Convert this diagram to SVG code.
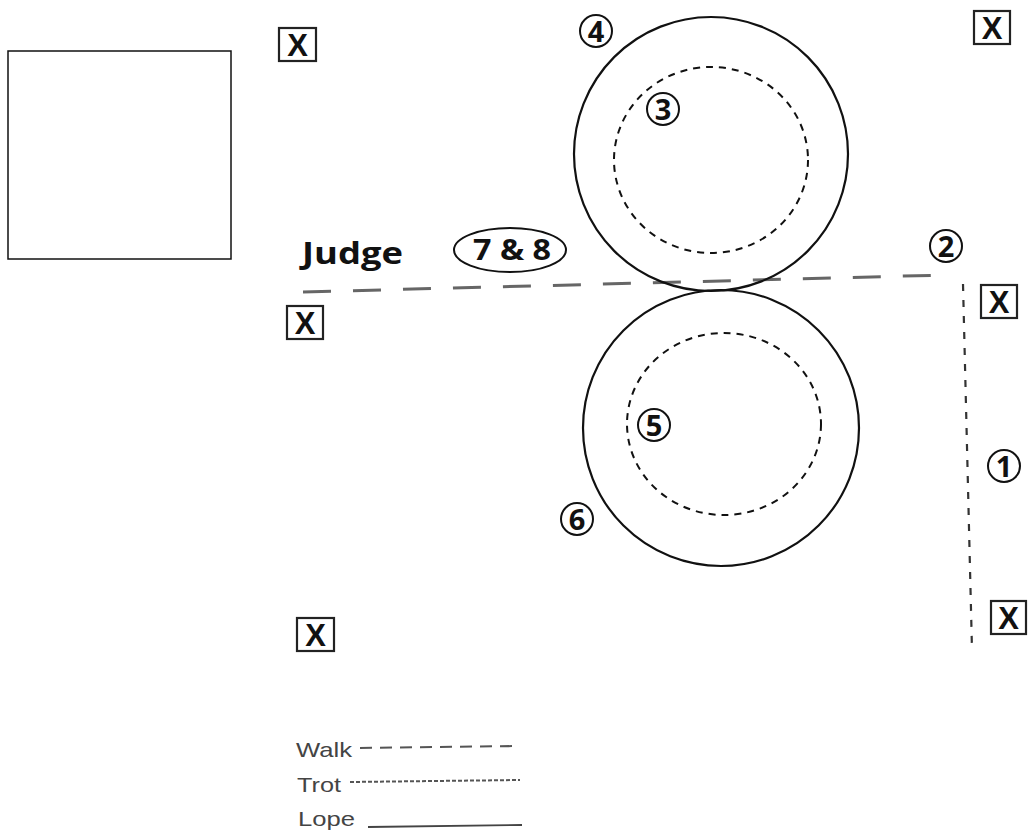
<svg xmlns="http://www.w3.org/2000/svg" width="1032" height="836" viewBox="0 0 1032 836">
<style>
.xb{fill:#fff;stroke:#222;stroke-width:2.2}
.xt{font-family:"Liberation Sans",Arial,sans-serif;font-weight:bold;font-size:31px;fill:#111;text-anchor:middle}
.num{fill:#fff;stroke:#111;stroke-width:2}
.nt{font-family:"Open Sans","DejaVu Sans",sans-serif;font-weight:bold;font-size:29px;fill:#111;text-anchor:middle}
.ring{fill:none;stroke:#111;stroke-width:2.2}
.inner{fill:none;stroke:#111;stroke-width:2;stroke-dasharray:7 6}
.leg{font-family:"Liberation Sans",Arial,sans-serif;font-size:21px;fill:#444}
</style>
<rect width="1032" height="836" fill="#fff"/>
<g id="box"><rect x="8" y="51" width="223" height="208" fill="#fff" stroke="#111" stroke-width="1.5"/></g>
<g id="connectors">
<path d="M303 292 L945 275" fill="none" stroke="#666" stroke-width="3" stroke-dasharray="28 22"/>
<path d="M963 284 L972 650" fill="none" stroke="#333" stroke-width="2.2" stroke-dasharray="7 9"/>
</g>
<g id="circle-upper">
<circle class="ring" cx="711" cy="154" r="137"/>
<ellipse class="inner" cx="711" cy="160" rx="97" ry="93"/>
</g>
<g id="circle-lower">
<circle class="ring" cx="721" cy="428" r="138"/>
<ellipse class="inner" cx="724" cy="424" rx="97" ry="91"/>
</g>
<g id="n1"><circle class="num" cx="1004" cy="466" r="16"/><text class="nt" x="1004" y="476.5">1</text></g>
<g id="n2"><circle class="num" cx="946" cy="246" r="16"/><text class="nt" x="946" y="256.5">2</text></g>
<g id="n3"><circle class="num" cx="663" cy="109" r="16"/><text class="nt" x="663" y="119.5">3</text></g>
<g id="n4"><circle class="num" cx="596" cy="31" r="16"/><text class="nt" x="596" y="41.5">4</text></g>
<g id="n5"><circle class="num" cx="654" cy="425" r="16"/><text class="nt" x="654" y="435.5">5</text></g>
<g id="n6"><circle class="num" cx="577" cy="519" r="16"/><text class="nt" x="577" y="529.5">6</text></g>
<g id="judge"><text x="302" y="264" font-family="'Open Sans','DejaVu Sans',sans-serif" font-weight="bold" font-size="30" fill="#111" textLength="101" lengthAdjust="spacingAndGlyphs">Judge</text></g>
<g id="n78"><ellipse cx="510" cy="250" rx="56" ry="22" fill="#fff" stroke="#111" stroke-width="2"/><text x="512" y="260" font-family="'Open Sans','DejaVu Sans',sans-serif" font-weight="bold" font-size="29" fill="#111" text-anchor="middle" textLength="78" lengthAdjust="spacingAndGlyphs">7 &amp; 8</text></g>
<g id="x1"><rect class="xb" x="279" y="28" width="37" height="33"/><text class="xt" x="297.5" y="56">X</text></g>
<g id="x2"><rect class="xb" x="974" y="11" width="36" height="33"/><text class="xt" x="992" y="39">X</text></g>
<g id="x3"><rect class="xb" x="287" y="306" width="36" height="33"/><text class="xt" x="305" y="334">X</text></g>
<g id="x4"><rect class="xb" x="981" y="285" width="36" height="33"/><text class="xt" x="999" y="313">X</text></g>
<g id="x5"><rect class="xb" x="297" y="618" width="37" height="33"/><text class="xt" x="315.5" y="646">X</text></g>
<g id="x6"><rect class="xb" x="991" y="601" width="35" height="33"/><text class="xt" x="1008.5" y="629">X</text></g>
<g id="legend">
<text class="leg" x="296" y="757" textLength="56" lengthAdjust="spacingAndGlyphs">Walk</text>
<line x1="360" y1="748" x2="520" y2="746" stroke="#555" stroke-width="2" stroke-dasharray="12 8"/>
<text class="leg" x="297" y="792" textLength="44" lengthAdjust="spacingAndGlyphs">Trot</text>
<line x1="350" y1="782" x2="520" y2="780" stroke="#555" stroke-width="2" stroke-dasharray="4 2"/>
<text class="leg" x="298" y="826" textLength="57" lengthAdjust="spacingAndGlyphs">Lope</text>
<line x1="368" y1="827" x2="522" y2="825" stroke="#444" stroke-width="1.8"/>
</g>
</svg>
